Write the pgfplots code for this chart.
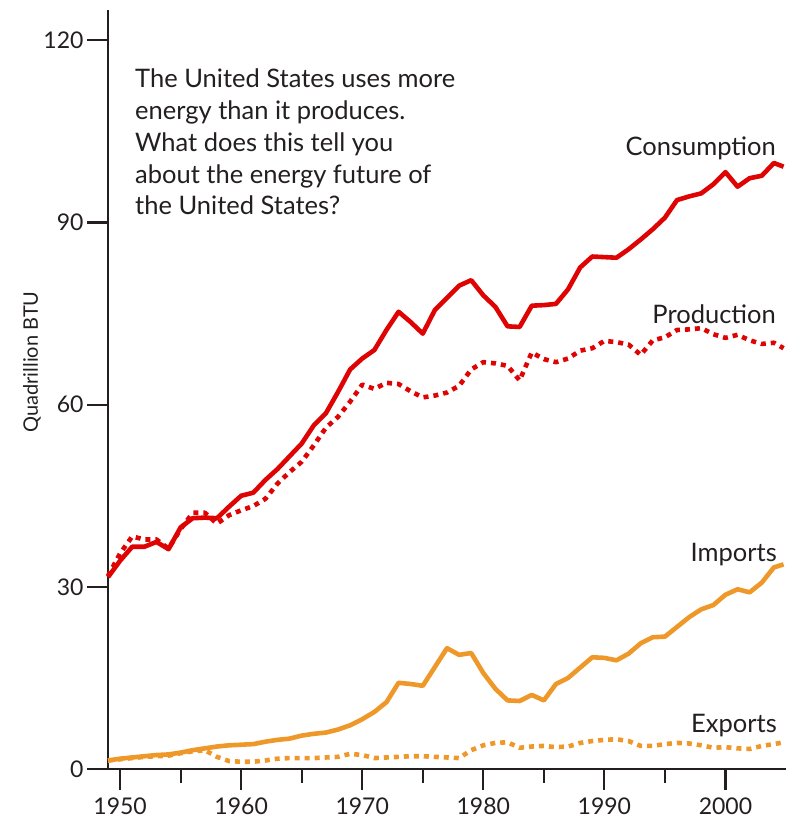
\documentclass[border=0pt]{standalone}
\usepackage{fontspec}
\setmainfont{Lato}
\usepackage{pgfplots}
\pgfplotsset{compat=1.18}
\definecolor{cred}{RGB}{222,4,4}
\definecolor{corange}{RGB}{238,152,42}
\definecolor{ctext}{RGB}{35,31,32}
\begin{document}
\begin{tikzpicture}
\path[use as bounding box] (-108pt,-56pt) rectangle (685pt,769pt);
\begin{axis}[
  at={(0pt,0pt)}, anchor=south west,
  scale only axis, width=678pt, height=759pt,
  xmin=1949, xmax=2005, ymin=0, ymax=125,
  axis lines*=left,
  axis line style={-, line width=2.4pt, ctext},
  every outer x axis line/.append style={-},
  every outer y axis line/.append style={-},
  clip=false,
  xtick={1950,1960,...,2000}, minor xtick={1955,1965,...,1995},
  ytick={0,30,...,120},
  tick align=outside, major tick length=21pt, minor tick length=14pt,
  tick style={line width=2.2pt, ctext},
  ticklabel style={font=\fontsize{23}{23}\selectfont, text=ctext},
  xticklabel style={yshift=-4pt},
  /pgf/number format/assume math mode=true,
  /pgf/number format/1000 sep={},
]
% Production (dotted red)
\addplot[cred, line width=4.6pt, dash pattern=on 5pt off 5pt, line join=round] coordinates {
(1949,31.8)(1950,35.5)(1951,38.3)(1952,37.8)(1953,37.8)(1954,36.3)(1955,39.5)(1956,42.2)(1957,42.2)(1958,40.4)(1959,41.8)(1960,42.6)(1961,43.3)(1962,44.5)(1963,47.0)(1964,48.9)(1965,50.6)(1966,53.3)(1967,56.2)(1968,58.0)(1969,60.5)(1970,63.3)(1971,62.6)(1972,63.6)(1973,63.4)(1974,62.2)(1975,61.2)(1976,61.5)(1977,62.0)(1978,63.1)(1979,65.8)(1980,67.0)(1981,66.8)(1982,66.4)(1983,64.0)(1984,68.6)(1985,67.5)(1986,67.0)(1987,67.6)(1988,68.9)(1989,69.3)(1990,70.5)(1991,70.3)(1992,69.9)(1993,68.2)(1994,70.6)(1995,71.1)(1996,72.3)(1997,72.4)(1998,72.6)(1999,71.6)(2000,71.0)(2001,71.5)(2002,70.6)(2003,70.0)(2004,70.2)(2004.8,69.3)
};
% Consumption (solid red)
\addplot[cred, line width=4.6pt, line join=round] coordinates {
(1949,31.6)(1950,34.3)(1951,36.6)(1952,36.6)(1953,37.4)(1954,36.2)(1955,39.8)(1956,41.3)(1957,41.4)(1958,41.3)(1959,43.2)(1960,45.0)(1961,45.5)(1962,47.6)(1963,49.4)(1964,51.5)(1965,53.6)(1966,56.6)(1967,58.6)(1968,62.1)(1969,65.8)(1970,67.6)(1971,69.0)(1972,72.3)(1973,75.3)(1974,73.6)(1975,71.7)(1976,75.6)(1977,77.6)(1978,79.6)(1979,80.5)(1980,78.0)(1981,76.1)(1982,72.9)(1983,72.8)(1984,76.3)(1985,76.4)(1986,76.6)(1987,79.0)(1988,82.6)(1989,84.4)(1990,84.3)(1991,84.2)(1992,85.6)(1993,87.2)(1994,88.9)(1995,90.8)(1996,93.7)(1997,94.3)(1998,94.8)(1999,96.3)(2000,98.3)(2001,95.9)(2002,97.3)(2003,97.7)(2004,99.8)(2004.8,99.2)
};
% Exports (dotted orange)
\addplot[corange, line width=4.6pt, dash pattern=on 5pt off 5pt, line join=round] coordinates {
(1949,1.4)(1950,1.6)(1951,1.8)(1952,2.0)(1953,2.1)(1954,2.2)(1955,2.6)(1956,2.9)(1957,3.1)(1958,2.0)(1959,1.3)(1960,1.2)(1961,1.2)(1962,1.4)(1963,1.7)(1964,1.8)(1965,1.8)(1966,1.8)(1967,1.9)(1968,2.0)(1969,2.5)(1970,2.3)(1971,1.8)(1972,1.9)(1973,2.0)(1974,2.1)(1975,2.1)(1976,2.0)(1977,1.9)(1978,1.8)(1979,3.1)(1980,3.9)(1981,4.3)(1982,4.4)(1983,3.5)(1984,3.7)(1985,3.8)(1986,3.6)(1987,3.7)(1988,4.3)(1989,4.6)(1990,4.8)(1991,4.9)(1992,4.6)(1993,3.8)(1994,3.8)(1995,4.1)(1996,4.3)(1997,4.2)(1998,3.9)(1999,3.5)(2000,3.6)(2001,3.4)(2002,3.3)(2003,3.8)(2004,4.1)(2004.8,4.4)
};
% Imports (solid orange)
\addplot[corange, line width=4.6pt, line join=round] coordinates {
(1949,1.4)(1950,1.7)(1951,1.9)(1952,2.1)(1953,2.3)(1954,2.4)(1955,2.7)(1956,3.1)(1957,3.4)(1958,3.7)(1959,3.9)(1960,4.0)(1961,4.1)(1962,4.5)(1963,4.8)(1964,5.0)(1965,5.5)(1966,5.8)(1967,6.0)(1968,6.5)(1969,7.2)(1970,8.2)(1971,9.4)(1972,11.0)(1973,14.2)(1974,14.0)(1975,13.7)(1976,16.8)(1977,19.9)(1978,18.8)(1979,19.1)(1980,15.8)(1981,13.2)(1982,11.3)(1983,11.2)(1984,12.2)(1985,11.3)(1986,14.0)(1987,15.0)(1988,16.7)(1989,18.4)(1990,18.3)(1991,17.9)(1992,19.0)(1993,20.7)(1994,21.7)(1995,21.8)(1996,23.4)(1997,25.0)(1998,26.3)(1999,27.0)(2000,28.7)(2001,29.6)(2002,29.1)(2003,30.7)(2004,33.2)(2004.8,33.7)
};
\end{axis}
\begin{scope}[every node/.style={text=ctext, inner sep=0pt}]
\node[anchor=north west, align=left, font=\fontsize{25.5}{31.7}\selectfont] at (27pt,700pt)
  {The United States uses more\\energy than it produces.\\What does this tell you\\about the energy future of\\the United States?};
\node[anchor=base east, font=\fontsize{25.5}{28}\selectfont] at (668pt,613pt) {Consumption};
\node[anchor=base east, font=\fontsize{25.5}{28}\selectfont] at (668pt,445pt) {Production};
\node[anchor=base east, font=\fontsize{25.5}{28}\selectfont] at (669pt,207pt) {Imports};
\node[anchor=base east, font=\fontsize{25.5}{28}\selectfont] at (669pt,36pt) {Exports};
\node[anchor=base, rotate=90, font=\fontsize{20}{22}\selectfont] at (-70pt,407pt) {Quadrillion BTU};
\end{scope}
\end{tikzpicture}
\end{document}
